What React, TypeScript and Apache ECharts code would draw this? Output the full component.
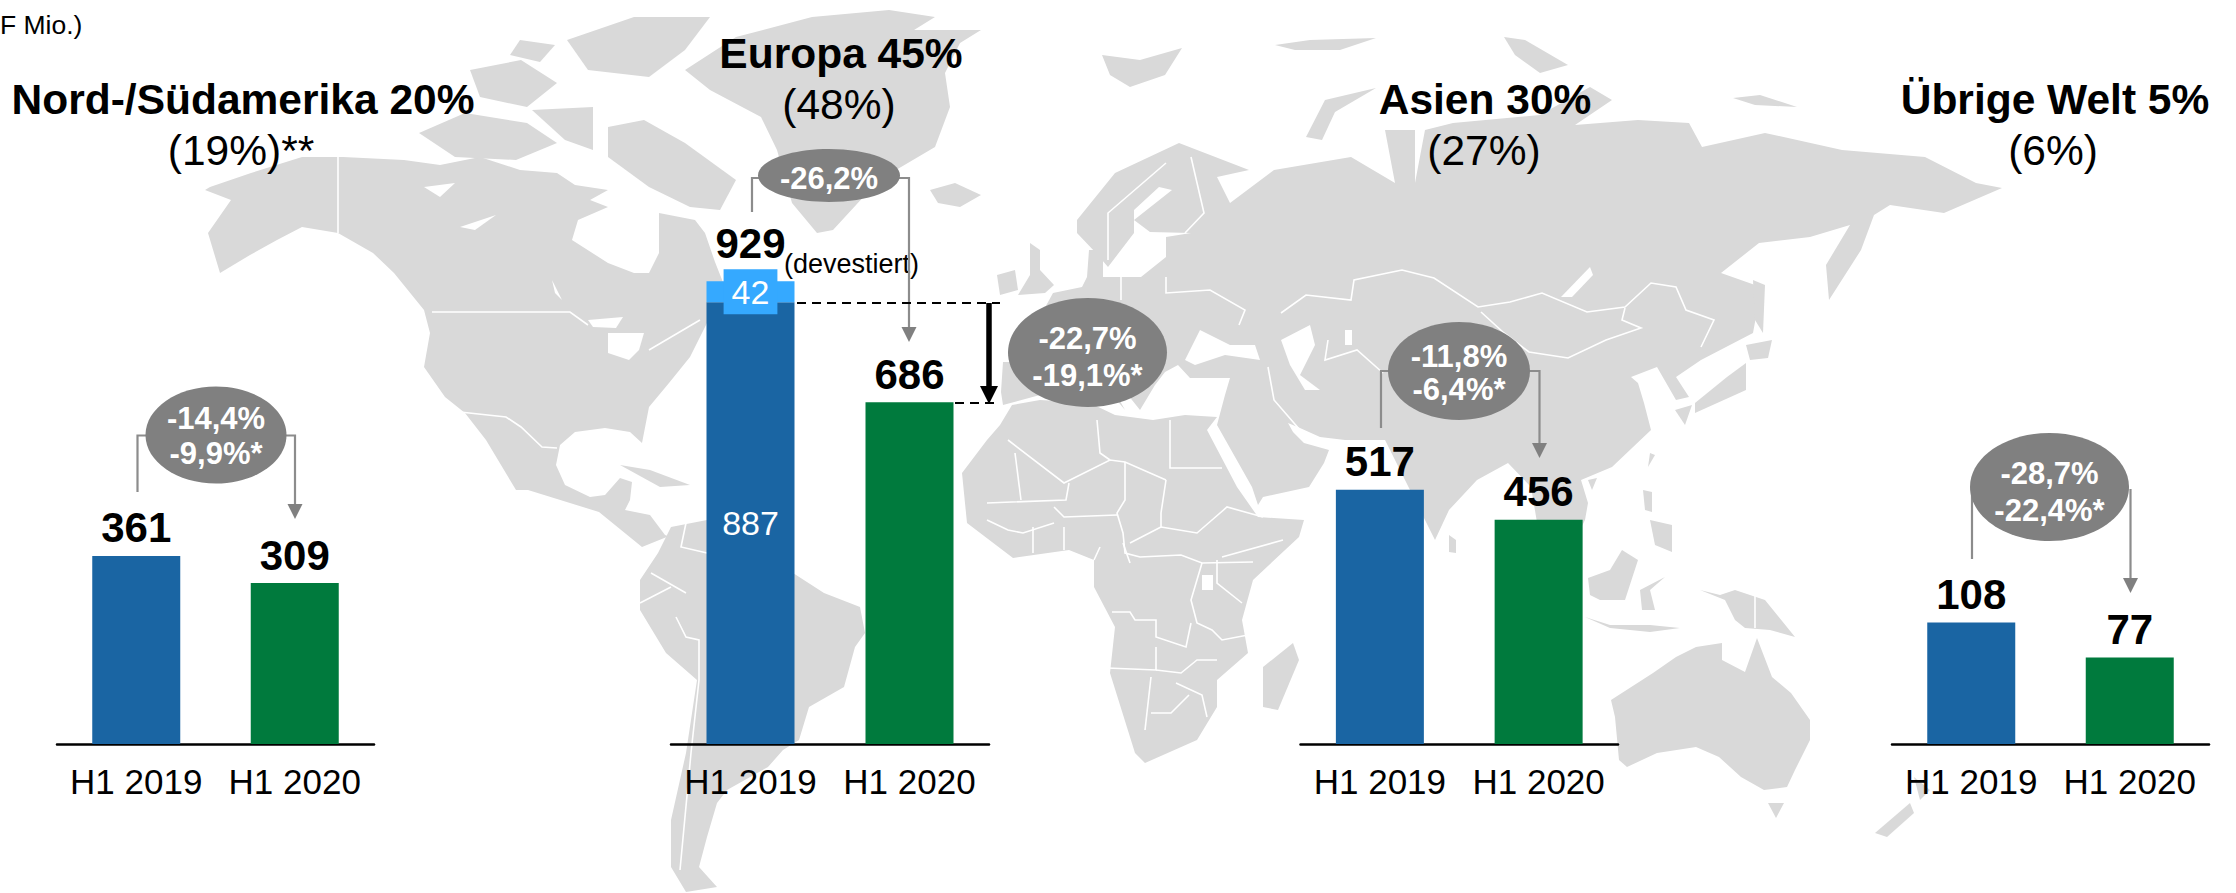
import React, { useEffect, useRef } from "react";
import * as echarts from "echarts";

const FONT = '"Liberation Sans", Arial, sans-serif';
const GREY = "#808080";
const LAND = "#D9D9D9";
const BLUE = "#1A65A3";
const GREEN = "#007A3D";
const LIGHT = "#35A9FF";

const periods = ["H1 2019", "H1 2020"];
const americas = [361, 309];
const europeOngoing = [887, 686];
const europeDivested = [42];
const europeTotal = [929];
const asia = [517, 456];
const rest = [108, 77];

type Pts = number[][];
const landMasses: Pts[] = [
  // North America
  [[205,190],[231,200],[208,233],[220,273],[250,255],[277,240],[302,227],[338,233],[373,253],[394,273],[424,310],[430,333],[424,367],[445,397],[465,413],[486,440],[516,490],[528,490],[599,512],[642,547],[684,530],[690,545],[665,535],[650,515],[625,510],[630,500],[632,482],[620,478],[605,495],[590,497],[565,485],[556,465],[560,445],[575,432],[605,428],[630,432],[642,443],[649,407],[669,383],[690,357],[710,317],[730,300],[715,262],[705,233],[695,220],[659,213],[659,253],[649,273],[634,273],[608,263],[572,240],[578,220],[608,207],[590,200],[608,190],[575,185],[557,173],[520,170],[480,157],[440,165],[404,160],[343,157],[302,157],[251,173],[210,187]],
  // Arctic Canada
  [[608,127],[644,120],[685,143],[736,180],[720,210],[690,207],[649,187],[608,157]],
  [[567,40],[634,17],[710,17],[685,50],[649,77],[588,70]],
  [[419,133],[465,113],[527,123],[557,143],[516,160],[455,157]],
  [[470,70],[521,60],[557,83],[527,107],[480,97]],
  [[532,110],[593,107],[593,150],[565,140]],
  [[520,40],[555,45],[540,62],[510,55]],
  // Greenland, Iceland
  [[685,70],[736,37],[812,17],[889,10],[935,17],[914,30],[981,30],[960,43],[945,73],[950,107],[935,147],[879,180],[833,230],[817,233],[792,203],[777,150],[761,117],[710,90]],
  [[930,190],[955,183],[981,195],[960,207],[938,203]],
  // Caribbean
  [[620,465],[650,470],[690,485],[660,487]],
  // South America
  [[658,553],[671,527],[707,520],[760,540],[793,573],[824,593],[860,607],[865,633],[855,647],[844,687],[809,707],[799,740],[783,750],[768,767],[727,790],[717,803],[707,837],[699,867],[717,887],[686,892],[671,867],[671,820],[686,753],[697,680],[666,653],[640,610],[640,580]],
  // Africa
  [[1000,425],[1012,405],[1040,400],[1090,403],[1115,415],[1153,420],[1185,415],[1217,417],[1207,430],[1237,487],[1258,517],[1304,520],[1299,537],[1253,580],[1242,620],[1248,653],[1217,680],[1217,707],[1197,740],[1145,763],[1135,753],[1110,673],[1115,627],[1094,587],[1094,560],[1069,550],[1013,558],[967,523],[962,473],[987,440]],
  [[1293,643],[1299,660],[1278,710],[1263,707],[1263,667]],
  // Eurasia
  [[1001,392],[1003,362],[1035,362],[1030,335],[1053,293],[1082,287],[1087,277],[1089,250],[1103,250],[1103,277],[1141,277],[1166,257],[1166,237],[1191,233],[1150,232],[1134,220],[1172,190],[1159,187],[1134,210],[1134,233],[1108,267],[1096,253],[1077,233],[1077,220],[1115,173],[1179,143],[1249,170],[1217,177],[1230,203],[1274,170],[1351,157],[1395,183],[1385,130],[1415,130],[1415,183],[1425,130],[1453,123],[1540,115],[1590,87],[1612,100],[1575,125],[1638,120],[1689,123],[1702,147],[1765,133],[1842,150],[1925,157],[1976,183],[2002,188],[1944,213],[1890,205],[1874,215],[1861,250],[1829,300],[1826,265],[1850,225],[1810,237],[1759,243],[1721,273],[1755,285],[1759,300],[1753,333],[1701,360],[1676,377],[1689,397],[1676,400],[1657,367],[1631,377],[1638,383],[1644,403],[1651,430],[1612,467],[1581,480],[1588,503],[1585,520],[1575,540],[1540,540],[1531,487],[1508,463],[1477,480],[1449,510],[1435,540],[1420,510],[1400,470],[1385,440],[1345,440],[1320,437],[1300,428],[1288,423],[1293,432],[1304,443],[1329,450],[1324,463],[1309,487],[1263,497],[1258,505],[1252,487],[1217,425],[1225,395],[1230,378],[1190,378],[1178,365],[1165,372],[1155,385],[1140,410],[1120,385],[1100,365],[1125,410],[1100,380],[1075,375],[1045,378],[1040,395],[1003,405]],
  // UK, Ireland
  [[1030,243],[1040,250],[1040,270],[1054,285],[1045,293],[1018,295],[1030,275]],
  [[997,275],[1015,270],[1018,290],[1000,295]],
  // Arctic Eurasia
  [[1102,55],[1140,60],[1182,48],[1165,75],[1130,87],[1110,75]],
  [[1275,45],[1310,40],[1376,38],[1340,50],[1295,50]],
  [[1504,37],[1525,40],[1568,65],[1540,73],[1515,55]],
  [[1306,137],[1325,100],[1376,88],[1335,112],[1322,140]],
  [[1733,98],[1760,95],[1797,107],[1755,105]],
  // Japan & Pacific Asia
  [[1746,345],[1772,340],[1768,358],[1750,360]],
  [[1695,403],[1727,377],[1746,363],[1746,390],[1695,413]],
  [[1675,410],[1692,405],[1685,425]],
  [[1753,280],[1765,285],[1763,333],[1755,320]],
  [[1449,535],[1456,540],[1456,553],[1449,552]],
  [[1650,453],[1655,455],[1648,467]],
  [[1588,480],[1597,478],[1592,490]],
  [[1643,490],[1652,492],[1652,512],[1645,510]],
  [[1650,520],[1672,525],[1672,552],[1655,545]],
  // Indonesia
  [[1588,578],[1610,570],[1622,550],[1638,560],[1625,600],[1600,600],[1590,595]],
  [[1640,590],[1665,577],[1650,590],[1655,610],[1642,610]],
  [[1585,617],[1610,625],[1650,625],[1680,628],[1650,632],[1610,628]],
  [[1700,590],[1720,595],[1735,590],[1765,600],[1795,637],[1770,630],[1745,628],[1735,620],[1725,600]],
  // Australia, NZ
  [[1611,700],[1653,673],[1676,657],[1696,647],[1722,643],[1722,660],[1745,672],[1757,638],[1772,677],[1791,693],[1810,720],[1810,740],[1795,770],[1787,787],[1764,790],[1741,777],[1719,757],[1696,747],[1657,753],[1627,767],[1619,760],[1615,717]],
  [[1768,803],[1784,803],[1776,818]],
  [[1875,833],[1910,803],[1914,813],[1887,837]],
  [[1914,777],[1930,790],[1920,800]],
];

const waterBodies: Pts[] = [
  [[1185,360],[1200,330],[1230,345],[1255,345],[1260,360],[1225,355],[1195,365]],
  [[1281,340],[1310,325],[1315,345],[1300,375],[1320,390],[1305,390],[1290,365]],
  [[1561,297],[1590,267],[1593,275],[1572,297]],
  [[1345,330],[1352,330],[1352,345],[1345,345]],
  [[588,320],[623,317],[616,328],[593,327]],
  [[608,353],[608,333],[644,333],[639,350],[629,360]],
  [[424,187],[455,183],[440,197]],
  [[460,227],[496,215],[475,230]],
  [[552,280],[562,300],[555,293]],
  [[1202,575],[1213,575],[1213,590],[1202,590]],
];

const borders: Pts[] = [
  [[338,157],[338,233]],
  [[432,312],[570,312],[588,325]],
  [[649,350],[700,320]],
  [[460,412],[506,417],[521,427],[542,447],[557,448]],
  [[651,573],[686,593]],
  [[676,617],[686,637],[699,640],[699,680],[691,753],[680,870]],
  [[686,523],[681,547],[707,553]],
  [[640,603],[671,587]],
  [[1281,313],[1306,295],[1351,300],[1354,280],[1402,270],[1434,278],[1478,307],[1510,302],[1542,293],[1587,312],[1625,307],[1651,283],[1676,287],[1686,310],[1714,320],[1701,347]],
  [[1481,312],[1504,333],[1529,352],[1568,358],[1606,340],[1641,328],[1622,320],[1625,308]],
  [[1328,340],[1325,360],[1357,350],[1383,373]],
  [[1268,367],[1274,400],[1300,430]],
  [[1166,277],[1166,293],[1210,290],[1245,310],[1239,325]],
  [[1121,277],[1121,300]],
  [[1166,163],[1108,213],[1108,260]],
  [[1191,157],[1204,213],[1185,233]],
  [[1008,440],[1064,483],[1110,460],[1125,462],[1166,480]],
  [[1097,420],[1100,453],[1110,460]],
  [[1170,420],[1170,468],[1222,468]],
  [[1166,480],[1161,513],[1161,527],[1130,543]],
  [[1125,462],[1125,500],[1117,513],[1123,533],[1125,553],[1140,557],[1181,555],[1202,563],[1253,562]],
  [[1069,483],[1066,500],[987,503]],
  [[1015,453],[1021,500]],
  [[1054,507],[1064,517],[1117,515]],
  [[1161,527],[1197,533],[1212,520],[1227,507],[1263,517]],
  [[1222,557],[1283,540]],
  [[1202,563],[1191,600],[1197,623],[1212,630],[1222,640],[1248,635]],
  [[1217,560],[1217,583],[1242,603]],
  [[1112,612],[1130,612],[1135,620],[1156,620],[1156,637],[1186,647],[1191,623]],
  [[1107,668],[1156,670],[1156,647]],
  [[1156,670],[1181,673],[1197,660],[1217,660]],
  [[1151,677],[1145,730]],
  [[1176,683],[1202,695],[1207,717]],
  [[1151,713],[1171,713],[1189,695]],
  [[987,520],[1008,530],[1023,533],[1054,523]],
  [[1033,527],[1033,553]],
  [[1064,527],[1064,550]],
  [[1100,547],[1094,560]],
  [[1123,543],[1130,563]],
  [[1755,590],[1755,628]],
];

const titles = [
  { text: "Nord-/Südamerika 20%", sub: "(19%)**", x: 243, subX: 241, y: 99, subY: 150 },
  { text: "Europa 45%", sub: "(48%)", x: 841, subX: 839, y: 53, subY: 104 },
  { text: "Asien 30%", sub: "(27%)", x: 1485, subX: 1484, y: 99, subY: 150 },
  { text: "Übrige Welt 5%", sub: "(6%)", x: 2055, subX: 2053, y: 99, subY: 150 },
];

const bubbles = [
  { cx: 216, cy: 435, rx: 70.5, ry: 48.5, lines: ["-14,4%", "-9,9%*"], ys: [418, 453] },
  { cx: 829, cy: 175.5, rx: 71, ry: 26.5, lines: ["-26,2%"], ys: [178] },
  { cx: 1087.5, cy: 352.5, rx: 79.5, ry: 54.5, lines: ["-22,7%", "-19,1%*"], ys: [338, 375] },
  { cx: 1459, cy: 371, rx: 71, ry: 49, lines: ["-11,8%", "-6,4%*"], ys: [356, 389] },
  { cx: 2049.5, cy: 487, rx: 79.5, ry: 54, lines: ["-28,7%", "-22,4%*"], ys: [473, 510] },
];

const connectors = [
  { from: [[137.5, 492], [137.5, 435.5], [148, 435.5]], to: [[284, 435.5], [295, 435.5], [295, 505]], tip: [295, 519] },
  { from: [[752, 212], [752, 178], [762, 178]], to: [[898, 178], [909, 178], [909, 328]], tip: [909, 342] },
  { from: [[1381, 428], [1381, 371], [1391, 371]], to: [[1528, 371], [1539.5, 371], [1539.5, 444]], tip: [1539.5, 458] },
  { from: [[1972, 559], [1972, 489]], to: [[2130.5, 489], [2130.5, 579]], tip: [2130.5, 593] },
];

function txt(text: string, x: number, y: number, size: number, weight: string, fill: string, align = "center", z = 100) {
  return {
    type: "text", x, y, z, silent: true,
    style: { text, fontFamily: FONT, fontSize: size, fontWeight: weight, fill, textAlign: align, textVerticalAlign: "middle" },
  };
}

function buildGraphics() {
  const els: any[] = [];
  landMasses.forEach((points) => els.push({ type: "polygon", z: 0, silent: true, shape: { points }, style: { fill: LAND } }));
  waterBodies.forEach((points) => els.push({ type: "polygon", z: 0, silent: true, shape: { points }, style: { fill: "#fff" } }));
  borders.forEach((points) => els.push({ type: "polyline", z: 0, silent: true, shape: { points }, style: { stroke: "#fff", lineWidth: 1.6, fill: "none" } }));

  els.push(txt("F Mio.)", 0, 25, 26.5, "normal", "#000", "left"));
  titles.forEach((t) => {
    els.push(txt(t.text, t.x, t.y, 42.5, "bold", "#000"));
    els.push(txt(t.sub, t.subX, t.subY, 42.5, "normal", "#000"));
  });
  els.push(txt("(devestiert)", 784, 264, 27, "normal", "#000", "left"));

  connectors.forEach((c) => {
    [c.from, c.to].forEach((points) =>
      els.push({ type: "polyline", z: 101, silent: true, shape: { points }, style: { stroke: "#8C8C8C", lineWidth: 2.2, fill: "none" } })
    );
    const [tx, ty] = c.tip;
    els.push({ type: "polygon", z: 101, silent: true, shape: { points: [[tx - 7.5, ty - 15], [tx + 7.5, ty - 15], [tx, ty]] }, style: { fill: "#808080" } });
  });

  bubbles.forEach((b) => {
    els.push({ type: "ellipse", z: 102, silent: true, shape: { cx: b.cx, cy: b.cy, rx: b.rx, ry: b.ry }, style: { fill: GREY } });
    b.lines.forEach((l, i) => els.push(txt(l, b.cx, b.ys[i], 31, "bold", "#fff", "center", 103)));
  });

  // Bridge between the divested-adjusted 2019 level and 2020
  els.push({ type: "line", z: 101, silent: true, shape: { x1: 797, y1: 303, x2: 1000, y2: 303 }, style: { stroke: "#000", lineWidth: 2, lineDash: [9, 6] } });
  els.push({ type: "line", z: 101, silent: true, shape: { x1: 955, y1: 403, x2: 994, y2: 403 }, style: { stroke: "#000", lineWidth: 2, lineDash: [9, 6] } });
  els.push({ type: "line", z: 101, silent: true, shape: { x1: 989, y1: 303, x2: 989, y2: 388 }, style: { stroke: "#000", lineWidth: 5.5 } });
  els.push({ type: "polygon", z: 101, silent: true, shape: { points: [[980, 386], [998, 386], [989, 404]] }, style: { fill: "#000" } });
  return els;
}

const panels = [
  { left: 57, right: 374, max: 400 },
  { left: 671, right: 989, max: 1000 },
  { left: 1300.5, right: 1618, max: 600 },
  { left: 1892, right: 2209, max: 120 },
];
const pxPerUnit = [0.5208, 0.498, 0.492, 1.125];
const BASE = 744;

function valueLabel() {
  return { show: true, position: "top", distance: 7, color: "#000", fontFamily: FONT, fontSize: 42, fontWeight: "bold" };
}

function coloured(values: number[]) {
  return values.map((value, i) => ({ value, itemStyle: { color: i === 0 ? BLUE : GREEN } }));
}

export default function App() {
  const ref = useRef<HTMLDivElement>(null);
  useEffect(() => {
    const chart = echarts.init(ref.current!, undefined, { renderer: "svg" });
    const grid = panels.map((p, i) => {
      const h = p.max * pxPerUnit[i];
      return { left: p.left, width: p.right - p.left, top: BASE - h, height: h };
    });
    const xAxis = panels.map((_, i) => ({
      type: "category", gridIndex: i, data: periods,
      axisTick: { show: false },
      axisLine: { lineStyle: { color: "#000", width: 2.5 } },
      axisLabel: { color: "#000", fontFamily: FONT, fontSize: 35, margin: 20, interval: 0 },
    }));
    const yAxis = panels.map((p, i) => ({ type: "value", gridIndex: i, min: 0, max: p.max, show: false, splitLine: { show: false } }));
    const bar = (i: number, data: any[], extra: any = {}) => ({
      type: "bar", xAxisIndex: i, yAxisIndex: i, barWidth: 88, data, label: valueLabel(), ...extra,
    });
    const series: any[] = [
      bar(0, coloured(americas)),
      bar(1, [
        { value: europeOngoing[0], itemStyle: { color: BLUE }, label: { show: true, position: "inside", color: "#fff", fontFamily: FONT, fontSize: 34, fontWeight: "normal" } },
        { value: europeOngoing[1], itemStyle: { color: GREEN } },
      ], { stack: "eu" }),
      bar(1, [{ value: europeDivested[0], itemStyle: { color: LIGHT } }, null], {
        stack: "eu",
        label: { show: true, position: "inside", color: "#fff", fontFamily: FONT, fontSize: 34, lineHeight: 35, backgroundColor: LIGHT, padding: [5, 8] },
      }),
      {
        type: "scatter", xAxisIndex: 1, yAxisIndex: 1, symbolSize: 1, itemStyle: { color: "transparent", opacity: 1 },
        data: [[0, europeTotal[0]]],
        label: { ...valueLabel(), distance: 16, formatter: () => String(europeTotal[0]) },
      },
      bar(2, coloured(asia)),
      bar(3, coloured(rest)),
    ];
    chart.setOption({
      animation: false,
      backgroundColor: "#fff",
      grid, xAxis, yAxis, series,
      graphic: { elements: buildGraphics() },
    });
    return () => chart.dispose();
  }, []);
  return <div ref={ref} style={{ position: "absolute", left: 0, top: 0, width: 2236, height: 893 }} />;
}
